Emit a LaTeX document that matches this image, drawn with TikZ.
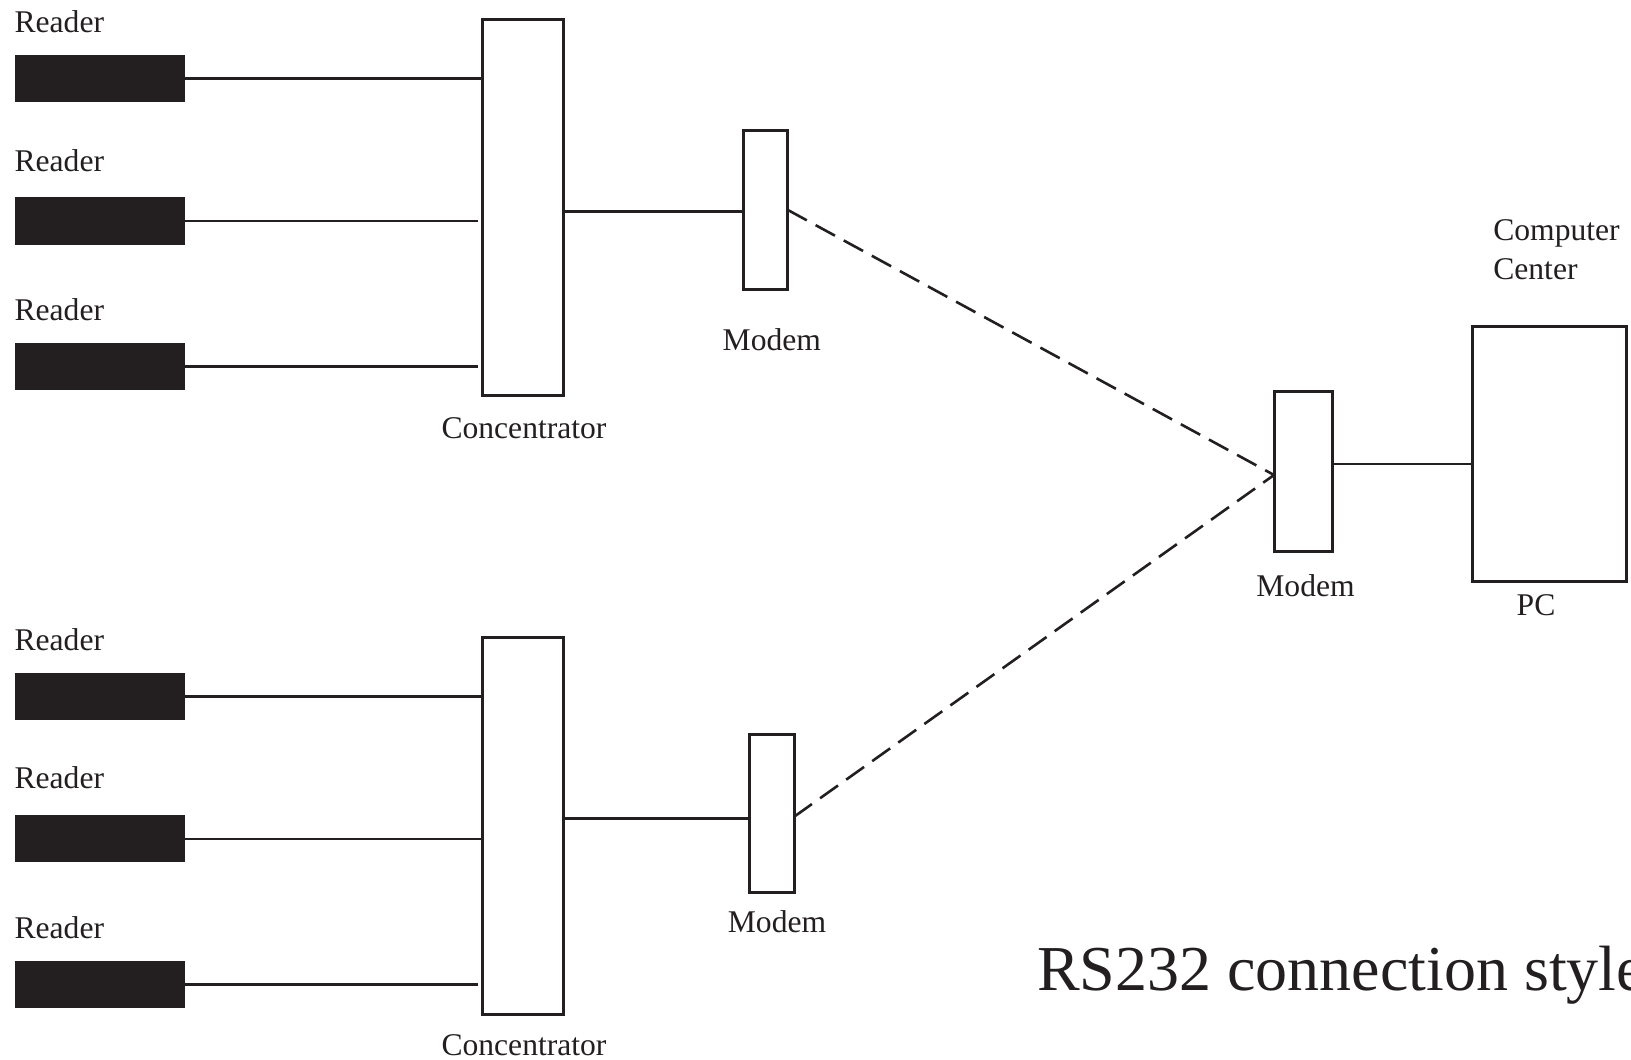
\documentclass[tikz,border=0pt]{standalone}
\usepackage{fontspec}
\setmainfont{Liberation Serif}
\definecolor{ink}{HTML}{231F20}
\begin{document}
\begin{tikzpicture}[x=0.5pt,y=-0.5pt,
  every node/.style={inner sep=0pt, outer sep=0pt, text=ink},
  reader/.style={fill=ink, draw=none, minimum width=85.4pt, minimum height=23.5pt},
  box/.style={draw=ink, line width=1.5pt, fill=white},
  lbl/.style={font=\fontsize{15.8pt}{19pt}\selectfont},
  wire/.style={draw=ink, line width=1.3pt},
  link/.style={draw=ink, line width=1.3pt, dash pattern=on 11pt off 5pt}]
\useasboundingbox (0,0) rectangle (1631,1059);
% readers
\node[reader] (r1) at (100,78.6) {};
\node[reader] (r2) at (100,221) {};
\node[reader] (r3) at (100,366.5) {};
\node[reader] (r4) at (100,696.3) {};
\node[reader] (r5) at (100,838.9) {};
\node[reader] (r6) at (100,984.5) {};
\node[lbl, anchor=base west] (l1) at (14.6,32.3) {Reader};
\node[lbl, anchor=base west] (l2) at (14.6,171.7) {Reader};
\node[lbl, anchor=base west] (l3) at (14.6,320.7) {Reader};
\node[lbl, anchor=base west] (l4) at (14.6,650) {Reader};
\node[lbl, anchor=base west] (l5) at (14.6,788.3) {Reader};
\node[lbl, anchor=base west] (l6) at (14.6,938.3) {Reader};
% concentrators
\node[box, minimum width=40.85pt, minimum height=187.75pt] (c1) at (523.1,207.7) {};
\node[box, minimum width=40.85pt, minimum height=188.5pt] (c2) at (523.1,825.5) {};
\node[lbl, anchor=base] (cl1) at (524,438.3) {Concentrator};
\node[lbl, anchor=base] (cl2) at (524,1055) {Concentrator};
% modems
\node[box, minimum width=22.1pt, minimum height=79.25pt] (m1) at (765.4,209.8) {};
\node[box, minimum width=22.2pt, minimum height=79.1pt] (m2) at (771.8,813.4) {};
\node[box, minimum width=29pt, minimum height=79.9pt] (m3) at (1303,471.4) {};
\node[lbl, anchor=base] (ml1) at (771.8,350) {Modem};
\node[lbl, anchor=base] (ml2) at (777,932.7) {Modem};
\node[lbl, anchor=base] (ml3) at (1305.5,596) {Modem};
% PC
\node[box, minimum width=77pt, minimum height=127.5pt] (pc) at (1549,453.5) {};
\node[lbl, anchor=base] (pcl) at (1536,615) {PC};
\node[lbl, anchor=base west] (cc1) at (1493.3,241) {Computer};
\node[lbl, anchor=base west] (cc2) at (1493.3,279.3) {Center};
% title
\node[font=\fontsize{32pt}{38pt}\selectfont, anchor=base west] (title) at (1037,990.7) {RS232 connection style};
% reader wires
\draw[wire] (r1.east) -- (r1.east -| c1.west);
\draw[wire] (r2.east) -- ([xshift=-2.3pt]r2.east -| c1.west);
\draw[wire] (r3.east) -- ([xshift=-2.3pt]r3.east -| c1.west);
\draw[wire] (r4.east) -- (r4.east -| c2.west);
\draw[wire] (r5.east) -- (r5.east -| c2.west);
\draw[wire] (r6.east) -- ([xshift=-2.3pt]r6.east -| c2.west);
% concentrator to modem
\draw[wire] ([yshift=-0.8pt]m1.west) -- ([yshift=-0.8pt]m1.west -| c1.east);
\draw[wire] ([yshift=-2.4pt]m2.west) -- ([yshift=-2.4pt]m2.west -| c2.east);
% phone links
\draw[link] (m1.east) -- ([yshift=-1.8pt]m3.west);
\draw[link] ([yshift=-1.7pt]m2.east) -- ([yshift=-1.8pt]m3.west);
% modem to PC
\draw[wire] ([yshift=3.7pt]m3.east) -- ([yshift=3.7pt]m3.east -| pc.west);
\end{tikzpicture}
\end{document}
